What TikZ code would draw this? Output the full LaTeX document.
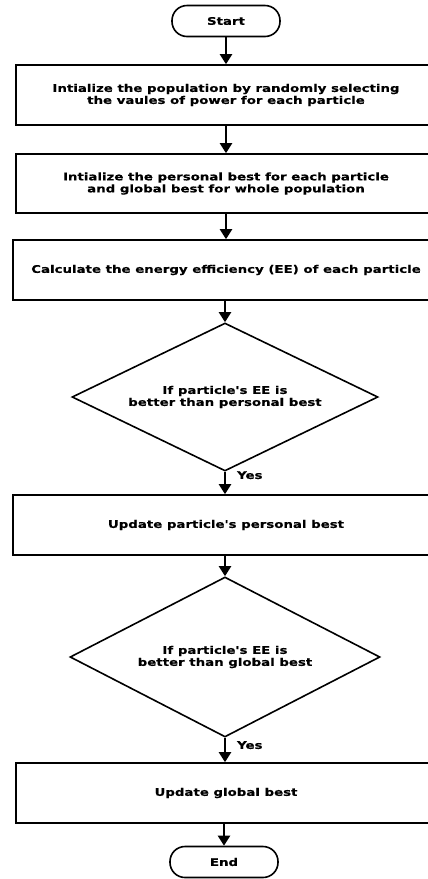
\documentclass[tikz,border=0pt]{standalone}
\usepackage{fontspec}
\setmainfont{DejaVu Sans}[FakeStretch=1.27, Ligatures=TeXOff, BoldFeatures={FakeBold=0.4}]
\usetikzlibrary{shapes.geometric,arrows.meta}
\tikzset{
  txt/.style={font=\bfseries\fontsize{10.5}{12}\selectfont, align=center},
  procbox/.style={draw, line width=1.6pt, rectangle, minimum height=60pt, txt},
  term/.style={draw, line width=1.6pt, rectangle, rounded corners=15pt, minimum width=108pt, minimum height=31pt, txt},
  decbox/.style={draw, line width=1.6pt, diamond, aspect=2.07, inner sep=0pt, txt},
  flow/.style={line width=2.2pt, -{Triangle[width=12pt,length=10pt]}},
  yeslab/.style={right, txt, inner sep=1pt, xshift=10pt},
}
\begin{document}
\begin{tikzpicture}[x=1pt,y=-1pt]
\useasboundingbox (0,0) rectangle (428,879);
\clip (0,0) rectangle (428,879);
\node[term] (start) at (226,21) {Start};
\node[procbox, minimum width=420pt] (b1) at (226,95) {Intialize the population by randomly selecting\\the vaules of power for each particle};
\node[procbox, minimum width=420pt, minimum height=59pt] (b2) at (226,183.5) {Intialize the personal best for each particle\\and global best for whole population};
\node[procbox, minimum width=426pt] (b3) at (226,270) {Calculate the energy efficiency (EE) of each particle};
\node[decbox, minimum width=306pt, minimum height=148pt] (d1) at (225,397) {If particle's EE is\\better than personal best};
\node[procbox, minimum width=426pt] (b4) at (226,525) {Update particle's personal best};
\node[decbox, minimum width=310pt, minimum height=160pt] (d2) at (225,657) {If particle's EE is\\better than global best};
\node[procbox, minimum width=420pt] (b5) at (226,793) {Update global best};
\node[term] (end) at (224,862) {End};
\draw[flow] (start) -- (b1);
\draw[flow] (b1) -- (b2);
\draw[flow] (b2) -- (b3);
\draw[flow] (b3.south -| d1.north) -- (d1.north);
\draw[flow] (d1.south) -- node[yeslab, pos=0.15] (y1) {Yes} (d1.south |- b4.north);
\draw[flow] (b4.south -| d2.north) -- (d2.north);
\draw[flow] (d2.south) -- node[yeslab, pos=0.3] (y2) {Yes} (d2.south |- b5.north);
\draw[flow] (b5.south -| end.north) -- (end);
\end{tikzpicture}
\end{document}
